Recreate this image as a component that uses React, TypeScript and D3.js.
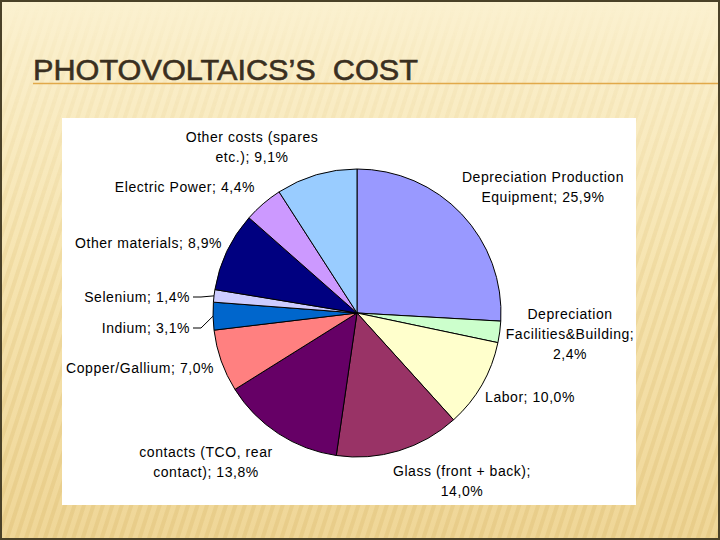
import React from 'react';
import * as d3 from 'd3';

// Cost breakdown, clockwise from 12 o'clock
const categories = [
  'Depreciation Production Equipment',
  'Depreciation Facilities&Building',
  'Labor',
  'Glass (front + back)',
  'contacts (TCO, rear contact)',
  'Copper/Gallium',
  'Indium',
  'Selenium',
  'Other materials',
  'Electric Power',
  'Other costs (spares etc.)',
];
const shares = [25.9, 2.4, 10.0, 14.0, 13.8, 7.0, 3.1, 1.4, 8.9, 4.4, 9.1];
const sliceColors = [
  '#9999ff', '#ccffcc', '#ffffcc', '#993366', '#660066', '#ff8080',
  '#0066cc', '#ccccff', '#000080', '#cc99ff', '#99ccff',
];
// label text lines as shown on the chart
const labelLines = [
  ['Depreciation Production', 'Equipment; 25,9%'],
  ['Depreciation', 'Facilities&Building;', '2,4%'],
  ['Labor; 10,0%'],
  ['Glass (front + back);', '14,0%'],
  ['contacts (TCO, rear', 'contact); 13,8%'],
  ['Copper/Gallium; 7,0%'],
  ['Indium; 3,1%'],
  ['Selenium; 1,4%'],
  ['Other materials; 8,9%'],
  ['Electric Power; 4,4%'],
  ['Other costs (spares', 'etc.); 9,1%'],
];

// label placement (Excel moved these by hand): x, first line y, anchor, leader line
const labelLayout = [
  { x: 543, y: 177, anchor: 'middle', leader: false },
  { x: 570, y: 314, anchor: 'middle', leader: false },
  { x: 530, y: 397, anchor: 'middle', leader: false },
  { x: 462, y: 471, anchor: 'middle', leader: false },
  { x: 206, y: 452, anchor: 'middle', leader: false },
  { x: 214, y: 368, anchor: 'end', leader: false },
  { x: 190, y: 328, anchor: 'end', leader: true },
  { x: 190, y: 297, anchor: 'end', leader: true },
  { x: 222, y: 243, anchor: 'end', leader: false },
  { x: 255, y: 187, anchor: 'end', leader: false },
  { x: 252, y: 137, anchor: 'middle', leader: false },
];

const W = 720;
const H = 540;
const cx = 357;
const cy = 313;
const radius = 144;
const lineH = 20;

export default function App() {
  const data = categories.map((c, i) => ({ name: c, value: shares[i] }));
  const pie = d3.pie<{ name: string; value: number }>().sort(null).value((d) => d.value);
  const arcs = pie(data);
  const arc = d3.arc<d3.PieArcDatum<{ name: string; value: number }>>().innerRadius(0).outerRadius(radius);
  const edge = d3.arc<d3.PieArcDatum<{ name: string; value: number }>>().innerRadius(radius).outerRadius(radius);

  const labelFont = '"Liberation Sans", Arial, sans-serif';

  return (
    <svg width={W} height={H} style={{ position: 'absolute', left: 0, top: 0 }}>
      <defs>
        <linearGradient id="bg" x1="0" y1="0" x2="0" y2="1">
          <stop offset="0" stopColor="#fbf1d0" />
          <stop offset="0.5" stopColor="#f6e4b0" />
          <stop offset="1" stopColor="#efd697" />
        </linearGradient>
        <pattern id="stripes" width="9" height="9" patternUnits="userSpaceOnUse" patternTransform="rotate(18)">
          <rect width="4" height="9" fill="#d9b86a" />
        </pattern>
        <linearGradient id="fadeIn" x1="0" y1="0" x2="0" y2="1">
          <stop offset="0" stopColor="#fff" stopOpacity="0" />
          <stop offset="0.1" stopColor="#fff" stopOpacity="0.2" />
          <stop offset="0.5" stopColor="#fff" stopOpacity="0.6" />
          <stop offset="1" stopColor="#fff" stopOpacity="0.9" />
        </linearGradient>
        <mask id="stripeMask">
          <rect width={W} height={H} fill="url(#fadeIn)" />
        </mask>
      </defs>

      {/* slide background */}
      <rect width={W} height={H} fill="url(#bg)" />
      <rect width={W} height={H} fill="url(#stripes)" opacity={0.35} mask="url(#stripeMask)" />
      <rect x={1} y={1} width={W - 2} height={H - 2} fill="none" stroke="#4a4128" strokeWidth={2} />

      {/* title */}
      <text
        x={33}
        y={80}
        fontFamily='"Liberation Sans Narrow", "Arial Narrow", "Liberation Sans", sans-serif'
        fontSize={30}
        fill="#3a2f1f"
        stroke="#3a2f1f"
        strokeWidth={0.6}
        textLength={385}
        lengthAdjust="spacingAndGlyphs"
        style={{ whiteSpace: 'pre' }}
      >
        {'PHOTOVOLTAICS\u2019S  COST'}
      </text>
      <line x1={33} x2={W - 2} y1={83.5} y2={83.5} stroke="#e1a94a" strokeWidth={1.5} />

      {/* chart picture */}
      <rect x={62} y={118} width={574} height={387} fill="#ffffff" />

      <g transform={`translate(${cx},${cy})`}>
        {arcs.map((a, i) => (
          <path key={categories[i]} d={arc(a) || ''} fill={sliceColors[i]} stroke="#000" strokeWidth={1} />
        ))}
      </g>

      {/* leader lines */}
      {arcs.map((a, i) => {
        const lay = labelLayout[i];
        if (!lay.leader) return null;
        const [ex, ey] = edge.centroid(a);
        const pts: [number, number][] = [
          [lay.x + 3, lay.y],
          [lay.x + 11, lay.y],
          [cx + ex, cy + ey],
        ];
        return (
          <path key={'l' + i} d={d3.line()(pts) || ''} fill="none" stroke="#000" strokeWidth={1} />
        );
      })}

      {/* labels */}
      {labelLines.map((lines, i) => {
        const lay = labelLayout[i];
        return (
          <text
            key={'t' + i}
            x={lay.x}
            y={lay.y}
            textAnchor={lay.anchor}
            fontFamily={labelFont}
            fontSize={14}
            letterSpacing={0.55}
            fill="#000"
          >
            {lines.map((ln, j) => (
              <tspan key={j} x={lay.x} y={lay.y + j * lineH} dy="0.36em">
                {ln}
              </tspan>
            ))}
          </text>
        );
      })}
    </svg>
  );
}
